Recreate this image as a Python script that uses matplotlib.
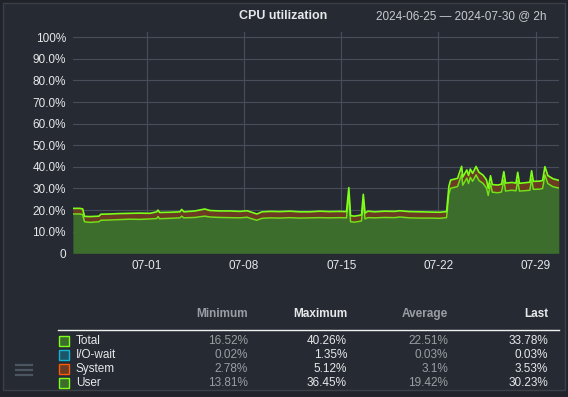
#!/usr/bin/env python3
"""CPU utilization over 2024-06-25 .. 2024-07-30 (2h buckets), dark dashboard style."""
import datetime as dt
import matplotlib
matplotlib.use("Agg")
import matplotlib.pyplot as plt
import matplotlib.dates as mdates
from matplotlib.patches import Rectangle

START = dt.datetime(2024, 6, 25, 16)
TICK_DAYS = [dt.datetime(2024, 7, d) for d in (1, 8, 15, 22, 29)]

# hours since START (breakpoints incl. spikes)
hours = [0, 12, 17, 20, 30, 45, 48.5, 64, 81, 99, 116, 133, 145, 147, 150,
         168, 185, 188, 192, 211, 228, 237, 254, 272, 289, 301, 309, 318, 327,
         341, 358, 375, 392, 410, 427, 444, 461, 473, 477, 480, 487, 496, 499,
         502, 505, 510, 522, 539, 556, 565, 582, 600, 617, 634, 646, 650, 653,
         665, 672, 674, 681, 684, 687, 691, 697, 702, 709, 715, 718, 722, 725,
         735, 741, 745, 748, 759, 766, 769, 772, 783, 790, 793, 796, 807, 812,
         816, 821, 830, 840]
total = [20.8, 20.8, 20.5, 17.1, 17.0, 17.2, 18.1, 18.2, 18.4, 18.5, 18.6, 18.5,
         19.2, 20.0, 18.9, 19.0, 19.2, 20.3, 19.2, 19.6, 20.5, 19.8, 19.6, 19.6,
         19.4, 19.7, 19.0, 18.2, 19.2, 19.4, 19.3, 19.5, 19.2, 19.2, 19.5, 19.3,
         19.4, 19.3, 30.4, 17.4, 17.2, 17.6, 17.8, 27.3, 18.6, 19.5, 19.2, 19.5,
         19.4, 19.7, 19.3, 19.2, 19.1, 19.0, 19.3, 31.0, 33.9, 34.7, 40.26, 35.3,
         38.6, 36.0, 39.0, 37.0, 40.2, 37.5, 36.2, 34.0, 30.1, 35.9, 31.8, 31.6,
         32.0, 37.8, 32.5, 32.8, 32.5, 37.5, 32.4, 32.7, 32.9, 38.2, 33.3, 33.4,
         33.7, 40.1, 36.0, 34.5, 33.78]
user = [18.2, 18.2, 17.9, 14.6, 14.3, 14.6, 15.3, 15.4, 15.6, 15.8, 15.7, 15.9,
        16.1, 17.0, 16.0, 16.2, 16.4, 17.2, 16.4, 16.6, 17.2, 16.8, 16.6, 16.5,
        16.4, 16.7, 16.0, 15.3, 16.2, 16.4, 16.3, 16.5, 16.3, 16.4, 16.5, 16.4,
        16.5, 16.4, 27.6, 14.6, 14.4, 14.8, 15.0, 24.5, 15.9, 16.5, 16.4, 16.6,
        16.5, 16.8, 16.4, 16.3, 16.3, 16.2, 16.5, 27.5, 30.1, 30.9, 36.45, 31.5,
        34.8, 32.3, 35.2, 33.3, 36.3, 33.7, 32.4, 30.2, 26.8, 32.3, 28.3, 28.0,
        28.4, 34.0, 28.8, 29.2, 28.9, 33.7, 28.8, 29.0, 29.2, 34.4, 29.6, 29.7,
        30.0, 36.3, 32.3, 30.8, 30.23]

series = ["Total", "I/O-wait", "System", "User"]
s_min = ["16.52%", "0.02%", "2.78%", "13.81%"]
s_max = ["40.26%", "1.35%", "5.12%", "36.45%"]
s_avg = ["22.51%", "0.03%", "3.1%", "19.42%"]
s_last = ["33.78%", "0.03%", "3.53%", "30.23%"]

BG = "#262b33"
OUTER = "#20242a"
GRID = "#474e5a"
TXT = "#e6e8ea"
DIM = "#9a9ea4"
GREEN_FILL = "#3d6d2d"
BROWN_FILL = "#6b3b22"
LIME = "#7dff1a"
LIME2 = "#72e01a"
swatch_face = [GREEN_FILL, "#1c5568", BROWN_FILL, GREEN_FILL]
swatch_edge = [LIME, "#16b4d2", "#ff5a0a", LIME]

plt.rcParams["font.family"] = ["Liberation Sans", "DejaVu Sans"]

fig = plt.figure(figsize=(5.68, 3.97), dpi=100, facecolor=OUTER)
# panel background + border
fig.patches.append(Rectangle((3 / 568, 1 - 390 / 397), 562 / 568, 387 / 397,
                             transform=fig.transFigure, facecolor=BG,
                             edgecolor="#3b4048", lw=1.0, zorder=-5))

ax = fig.add_axes([72.9 / 568, 1 - 253.3 / 397, 485.9 / 568, 221.3 / 397])
ax.set_facecolor(BG)
t = [START + dt.timedelta(hours=h) for h in hours]
ax.fill_between(t, 0, user, color=GREEN_FILL, lw=0, zorder=2)
ax.fill_between(t, user, total, color=BROWN_FILL, lw=0, zorder=2)
ax.plot(t, user, color=LIME2, lw=1.1, zorder=3)
ax.plot(t, total, color=LIME, lw=1.2, zorder=4)

ax.set_xlim(START, START + dt.timedelta(hours=840))
ax.set_ylim(0, 102.45)
ax.set_yticks(range(0, 101, 10))
ax.set_yticklabels(["0"] + [f"{v:.1f}%" for v in range(10, 100, 10)] + ["100%"])
ax.set_xticks(TICK_DAYS)
ax.xaxis.set_major_formatter(mdates.DateFormatter("%m-%d"))
ax.tick_params(colors=TXT, labelsize=8.5, length=0, pad=5)
ax.xaxis.grid(True, color=GRID, lw=0.8, zorder=1)
ax.set_axisbelow(True)
for s in ax.spines.values():
    s.set_visible(False)
# horizontal grid stops at 100%
for v in range(10, 101, 10):
    ax.axhline(v, color=GRID, lw=0.8, zorder=1)

def fy(y):
    return 1 - y / 397

fig.text(283 / 568, fy(16), "CPU utilization", color=TXT, fontsize=9,
         fontweight="bold", ha="center", va="center")
fig.text(546 / 568, fy(16), "2024-06-25 \u2014 2024-07-30 @ 2h", color="#c8cbcf",
         fontsize=8.5, ha="right", va="center")

# summary table
cols_x = [248, 347, 448, 548]
heads = ["Minimum", "Maximum", "Average", "Last"]
head_col = [DIM, TXT, DIM, TXT]
for x, h, c in zip(cols_x, heads, head_col):
    fig.text(x / 568, fy(314), h, color=c, fontsize=8.5, fontweight="bold",
             ha="right", va="center")
fig.add_artist(plt.Line2D([58 / 568, 559 / 568], [fy(330), fy(330)],
                          color="#f0f0f0", lw=1.0))
rows_y = [341, 355, 369, 383]
for i, name in enumerate(series):
    y = rows_y[i]
    fig.patches.append(Rectangle((58.5 / 568, fy(y + 5)), 10 / 568, 10 / 397,
                                 transform=fig.transFigure,
                                 facecolor=swatch_face[i],
                                 edgecolor=swatch_edge[i], lw=1.0))
    fig.text(76 / 568, fy(y), name, color=TXT, fontsize=8.5, ha="left", va="center")
    for x, vals, c in zip(cols_x, [s_min, s_max, s_avg, s_last], head_col):
        fig.text(x / 568, fy(y), vals[i], color=c, fontsize=8.5,
                 ha="right", va="center")

# hamburger menu icon
for yy in (365, 370, 375):
    fig.add_artist(plt.Line2D([16 / 568, 32 / 568], [fy(yy), fy(yy)],
                              color="#4b5660", lw=1.6))

fig.savefig("out.png", dpi=100, facecolor=OUTER)
